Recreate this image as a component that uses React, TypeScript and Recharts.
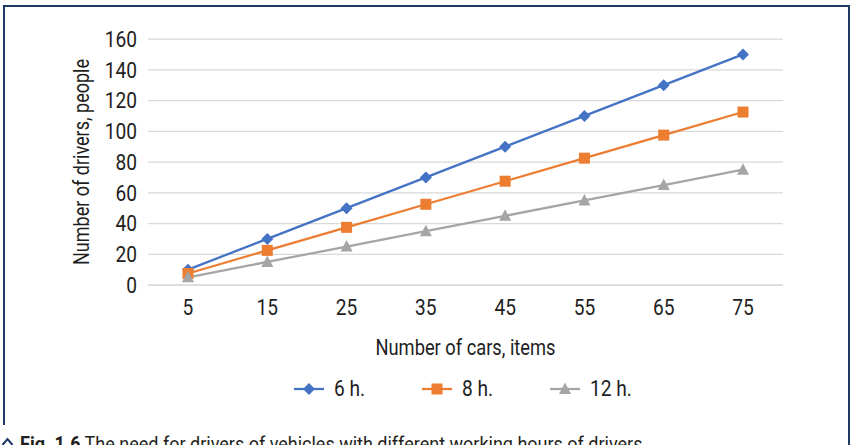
import React from 'react';
import { LineChart, Line, XAxis, YAxis, CartesianGrid, Legend } from 'recharts';

// Number of cars (category axis)
const cars = ['5', '15', '25', '35', '45', '55', '65', '75'];
// Drivers needed per working-hours regime
const drivers6h = [10, 30, 50, 70, 90, 110, 130, 150];
const drivers8h = [7.5, 22.5, 37.5, 52.5, 67.5, 82.5, 97.5, 112.5];
const drivers12h = [5, 15, 25, 35, 45, 55, 65, 75];
const yTicks = [0, 20, 40, 60, 80, 100, 120, 140, 160];

const seriesNames = ['6 h.', '8 h.', '12 h.'];

const data = cars.map((c, i) => ({
  cars: c,
  h6: drivers6h[i],
  h8: drivers8h[i],
  h12: drivers12h[i],
}));

const FONT = "Roboto, 'DejaVu Sans', sans-serif";
const TEXT = '#1e1e1e';
const BLUE = '#4472C4';
const ORANGE = '#ED7D31';
const GRAY = '#A5A5A5';
const NAVY = '#1F3864';
const NARROW = 0.87; // horizontal squeeze for the condensed look of the labels

const Diamond = (props: any) => {
  const { cx, cy, fill } = props;
  if (cx == null || cy == null) return null;
  return <polygon points={`${cx},${cy - 6} ${cx + 6},${cy} ${cx},${cy + 6} ${cx - 6},${cy}`} fill={fill} />;
};
const Square = (props: any) => {
  const { cx, cy, fill } = props;
  if (cx == null || cy == null) return null;
  return <rect x={cx - 5.5} y={cy - 5.5} width={11} height={11} fill={fill} />;
};
const Triangle = (props: any) => {
  const { cx, cy, fill } = props;
  if (cx == null || cy == null) return null;
  return <polygon points={`${cx},${cy - 6.5} ${cx + 6},${cy + 5} ${cx - 6},${cy + 5}`} fill={fill} />;
};

const markers: Record<string, (p: any) => any> = {
  '6 h.': Diamond,
  '8 h.': Square,
  '12 h.': Triangle,
};

// Tick label drawn condensed around its anchor point
const CondensedTick = (props: any) => {
  const { x, y, payload, textAnchor, verticalAnchor } = props;
  const dy = verticalAnchor === 'start' ? '0.71em' : '0.355em';
  return (
    <g transform={`translate(${x},${y}) scale(${NARROW},1)`}>
      <text x={0} y={0} dy={dy} textAnchor={textAnchor} fontFamily={FONT} fontSize={22} fill={TEXT}>
        {payload.value}
      </text>
    </g>
  );
};

const LegendContent = (props: any) => {
  const payload = [...(props.payload || [])].sort(
    (a: any, b: any) => seriesNames.indexOf(a.value) - seriesNames.indexOf(b.value)
  );
  return (
    <div style={{ display: 'flex', alignItems: 'center', fontFamily: FONT, fontSize: 22, color: TEXT }}>
      {payload.map((entry: any, i: number) => {
        const M = markers[entry.value];
        return (
          <div key={i} style={{ display: 'flex', alignItems: 'center', marginRight: i < payload.length - 1 ? 56 : 0 }}>
            <svg width={30} height={16} style={{ marginRight: 10 }}>
              <line x1={0} y1={8} x2={30} y2={8} stroke={entry.color} strokeWidth={2.25} />
              <M cx={15} cy={8} fill={entry.color} />
            </svg>
            <span style={{ lineHeight: '24px', display: 'inline-block', transform: `scaleX(${NARROW})`, transformOrigin: 'left center', marginRight: -4 }}>
              {entry.value}
            </span>
          </div>
        );
      })}
    </div>
  );
};

const YTitle = (props: any) => {
  const { viewBox } = props;
  const cy = viewBox.y + viewBox.height / 2;
  const x = 89;
  return (
    <text
      x={x}
      y={cy}
      transform={`rotate(-90, ${x}, ${cy})`}
      textAnchor="middle"
      fontFamily={FONT}
      fontSize={22}
      fill={TEXT}
      textLength={206}
      lengthAdjust="spacingAndGlyphs"
    >
      Number of drivers, people
    </text>
  );
};

const XTitle = (props: any) => {
  const { viewBox } = props;
  const cx = viewBox.x + viewBox.width / 2;
  return (
    <text
      x={cx}
      y={viewBox.y + 70}
      textAnchor="middle"
      fontFamily={FONT}
      fontSize={22}
      fill={TEXT}
      textLength={180}
      lengthAdjust="spacingAndGlyphs"
    >
      Number of cars, items
    </text>
  );
};

export default function App() {
  return (
    <div style={{ position: 'fixed', left: 0, top: 0, width: 851, height: 445, overflow: 'hidden', background: '#fff' }}>
      {/* figure frame */}
      <div style={{ position: 'absolute', left: 3, top: 5, width: 847, height: 2, background: NAVY }} />
      <div style={{ position: 'absolute', left: 3, top: 5, width: 2, height: 420, background: NAVY }} />
      <div style={{ position: 'absolute', left: 848, top: 5, width: 2, height: 440, background: NAVY }} />

      <div style={{ position: 'absolute', left: 0, top: 0 }}>
        <LineChart width={851} height={445} data={data} margin={{ top: 39, right: 68, left: 0, bottom: 80 }}>
          <CartesianGrid vertical={false} stroke="#D9D9D9" strokeWidth={1.25} />
          <XAxis
            dataKey="cars"
            height={80}
            interval={0}
            padding={{ left: 40, right: 40 }}
            axisLine={{ stroke: '#D9D9D9', strokeWidth: 1.25 }}
            tickLine={false}
            tickSize={0}
            tickMargin={14}
            tick={<CondensedTick />}
            label={<XTitle />}
          />
          <YAxis
            width={148}
            domain={[0, 160]}
            ticks={yTicks}
            interval={0}
            axisLine={false}
            tickLine={false}
            tickSize={0}
            tickMargin={11}
            tick={<CondensedTick />}
            label={<YTitle />}
          />
          <Legend
            layout="horizontal"
            verticalAlign="middle"
            align="center"
            content={<LegendContent />}
            wrapperStyle={{ top: 377, left: 294, width: 400, height: 24 }}
          />
          <Line type="linear" dataKey="h6" name={seriesNames[0]} stroke={BLUE} strokeWidth={2.25} dot={<Diamond fill={BLUE} />} activeDot={false} isAnimationActive={false} />
          <Line type="linear" dataKey="h8" name={seriesNames[1]} stroke={ORANGE} strokeWidth={2.25} dot={<Square fill={ORANGE} />} activeDot={false} isAnimationActive={false} />
          <Line type="linear" dataKey="h12" name={seriesNames[2]} stroke={GRAY} strokeWidth={2.25} dot={<Triangle fill={GRAY} />} activeDot={false} isAnimationActive={false} />
        </LineChart>
      </div>

      {/* caption */}
      <svg style={{ position: 'absolute', left: 1, top: 436 }} width={14} height={12}>
        <polyline points="1.5,9 6.5,3 11.5,9" fill="none" stroke={NAVY} strokeWidth={2} />
      </svg>
      <div
        style={{
          position: 'absolute',
          left: 20,
          top: 434,
          fontFamily: FONT,
          fontSize: 20,
          lineHeight: 1,
          color: '#231f20',
          whiteSpace: 'nowrap',
          transform: 'scaleX(0.9)',
          transformOrigin: 'left top',
        }}
      >
        <b>Fig. 1.6</b> The need for drivers of vehicles with different working hours of drivers
      </div>
    </div>
  );
}
